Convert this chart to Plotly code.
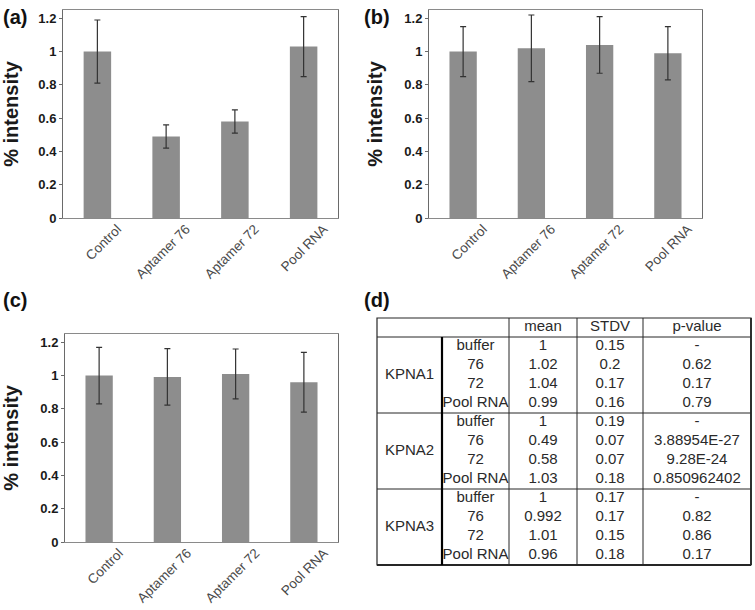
import plotly.graph_objects as go

W, H = 755, 610

categories = ["Control", "Aptamer 76", "Aptamer 72", "Pool RNA"]

# panel (a) = KPNA2, (b) = KPNA1, (c) = KPNA3
kpna1_mean = [1, 1.02, 1.04, 0.99]
kpna1_sd = [0.15, 0.2, 0.17, 0.16]
kpna1_p = ["-", "0.62", "0.17", "0.79"]

kpna2_mean = [1, 0.49, 0.58, 1.03]
kpna2_sd = [0.19, 0.07, 0.07, 0.18]
kpna2_p = ["-", "3.88954E-27", "9.28E-24", "0.850962402"]

kpna3_mean = [1, 0.992, 1.01, 0.96]
kpna3_sd = [0.17, 0.17, 0.15, 0.18]
kpna3_p = ["-", "0.82", "0.86", "0.17"]

mean_text1 = ["1", "1.02", "1.04", "0.99"]
mean_text2 = ["1", "0.49", "0.58", "1.03"]
mean_text3 = ["1", "0.992", "1.01", "0.96"]
sd_text1 = ["0.15", "0.2", "0.17", "0.16"]
sd_text2 = ["0.19", "0.07", "0.07", "0.18"]
sd_text3 = ["0.17", "0.17", "0.15", "0.18"]

groups = ["KPNA1", "KPNA2", "KPNA3"]
sub_labels = ["buffer", "76", "72", "Pool RNA"]
header = ["mean", "STDV", "p-value"]
y_ticks = [0, 0.2, 0.4, 0.6, 0.8, 1, 1.2]
y_tick_text = ["0", "0.2", "0.4", "0.6", "0.8", "1", "1.2"]

# ---- styling / layout constants ----
FONT = "Liberation Sans, Arial, sans-serif"
BAR_COLOR = "#8d8d8d"
ERR_COLOR = "#333333"


def px_dom_x(a, b):
    return [a / W, b / W]


def px_dom_y(top, bottom):
    return [1 - bottom / H, 1 - top / H]


fig = go.Figure()

panels = [
    ("x", "y", kpna2_mean, kpna2_sd, px_dom_x(63, 338), px_dom_y(10, 218)),
    ("x2", "y2", kpna1_mean, kpna1_sd, px_dom_x(429, 702), px_dom_y(10, 218)),
    ("x3", "y3", kpna3_mean, kpna3_sd, px_dom_x(65, 338), px_dom_y(334, 542)),
]

for i, (xa, ya, m, s, dx, dy) in enumerate(panels):
    fig.add_trace(go.Bar(
        x=categories, y=m, xaxis=xa, yaxis=ya,
        marker=dict(color=BAR_COLOR, line=dict(width=0)),
        error_y=dict(type="data", array=s, visible=True, color=ERR_COLOR,
                     thickness=1.2, width=3),
        showlegend=False, hoverinfo="skip",
    ))
    sfx = "" if i == 0 else str(i + 1)
    fig.layout["xaxis" + sfx] = dict(
        domain=dx, anchor=ya, showline=True, linecolor="#8a8a8a", linewidth=1,
        mirror=True, ticks="", tickangle=-45, ticklabelshift=20,
        ticklabelstandoff=-3,
        tickfont=dict(family=FONT, size=13.5, color="#4a4a4a"),
        showgrid=False, zeroline=False, fixedrange=True, automargin=False,
    )
    fig.layout["yaxis" + sfx] = dict(
        domain=dy, anchor=xa, range=[0, 1.25], tickvals=y_ticks,
        ticktext=y_tick_text, showline=True, linecolor="#6a6a6a", linewidth=1,
        mirror=True, ticks="outside", ticklen=3, tickcolor="#6a6a6a",
        tickfont=dict(family=FONT, size=13, color="#1a1a1a", weight="bold"),
        showgrid=False, zeroline=False, fixedrange=True, automargin=False,
        title=dict(text="% intensity", standoff=16,
                   font=dict(family=FONT, size=20, color="#1a1a1a", weight="bold")),
    )

fig.update_layout(bargap=0.6)

# ---- table (d) on its own axes ----
col_edges = [0, 65, 132, 200, 266, 374]
n_rows = 13
col_centers = [(col_edges[k] + col_edges[k + 1]) / 2 for k in range(5)]

PAD_X = 3      # table-axis units (= px) of breathing room so borders aren't clipped
PAD_Y = 0.15   # rows
fig.layout["xaxis4"] = dict(domain=px_dom_x(377 - PAD_X, 751 + PAD_X), anchor="y4",
                            range=[-PAD_X, col_edges[-1] + PAD_X], visible=False,
                            fixedrange=True, automargin=False)
row_px = (565 - 318) / n_rows
fig.layout["yaxis4"] = dict(domain=px_dom_y(318 - PAD_Y * row_px, 565 + PAD_Y * row_px),
                            anchor="x4", range=[n_rows + PAD_Y, -PAD_Y], visible=False,
                            fixedrange=True, automargin=False)

tfont = dict(family=FONT, size=15, color="#2a2a2a")

# header
fig.add_trace(go.Scatter(
    x=col_centers[2:], y=[0.5] * 3, text=header, mode="text",
    textfont=tfont, xaxis="x4", yaxis="y4", showlegend=False, hoverinfo="skip"))

means = [mean_text1, mean_text2, mean_text3]
sds = [sd_text1, sd_text2, sd_text3]
ps = [kpna1_p, kpna2_p, kpna3_p]
for g in range(3):
    rows = [1 + 4 * g + r + 0.5 for r in range(4)]
    fig.add_trace(go.Scatter(
        x=[col_centers[0]], y=[1 + 4 * g + 2], text=[groups[g]], mode="text",
        textfont=tfont, xaxis="x4", yaxis="y4", showlegend=False, hoverinfo="skip"))
    for c, vals in zip(range(1, 5), [sub_labels, means[g], sds[g], ps[g]]):
        fig.add_trace(go.Scatter(
            x=[col_centers[c]] * 4, y=rows, text=vals, mode="text",
            textfont=tfont, xaxis="x4", yaxis="y4", showlegend=False,
            hoverinfo="skip"))

LC = "#262626"
shapes = []
# outer border
shapes.append(dict(type="rect", xref="x4", yref="y4", x0=0, x1=col_edges[-1],
                   y0=0, y1=n_rows, line=dict(color=LC, width=1.2)))
# thicker bottom / right edge
shapes.append(dict(type="line", xref="x4", yref="y4", x0=0, x1=col_edges[-1],
                   y0=n_rows, y1=n_rows, line=dict(color=LC, width=2.2)))
shapes.append(dict(type="line", xref="x4", yref="y4", x0=col_edges[-1],
                   x1=col_edges[-1], y0=0, y1=n_rows, line=dict(color=LC, width=1.8)))
# horizontal separators
for yy in [1, 5, 9]:
    shapes.append(dict(type="line", xref="x4", yref="y4", x0=0, x1=col_edges[-1],
                       y0=yy, y1=yy, line=dict(color=LC, width=1)))
# vertical separators
for xx in col_edges[2:5]:
    shapes.append(dict(type="line", xref="x4", yref="y4", x0=xx, x1=xx,
                       y0=0, y1=n_rows, line=dict(color=LC, width=1)))
shapes.append(dict(type="line", xref="x4", yref="y4", x0=col_edges[1],
                   x1=col_edges[1], y0=1, y1=n_rows, line=dict(color="#000000", width=2.2)))

# panel letters
lfont = dict(family=FONT, size=20, color="#111111", weight="bold")
annotations = []
for txt, ax, ay in [("(a)", 1, 17), ("(b)", 362, 17), ("(c)", 1, 300), ("(d)", 362, 300)]:
    annotations.append(dict(text=txt, x=ax / W, y=1 - ay / H, xref="paper",
                            yref="paper", xanchor="left", yanchor="middle",
                            showarrow=False, font=lfont))

fig.update_layout(
    width=W, height=H, margin=dict(l=0, r=0, t=0, b=0, autoexpand=False),
    paper_bgcolor="white", plot_bgcolor="white",
    shapes=shapes, annotations=annotations,
    font=dict(family=FONT),
)

fig.write_html("out.html", config={"displayModeBar": False},
               post_script="document.body.style.margin='0px';document.body.style.overflow='hidden';")
